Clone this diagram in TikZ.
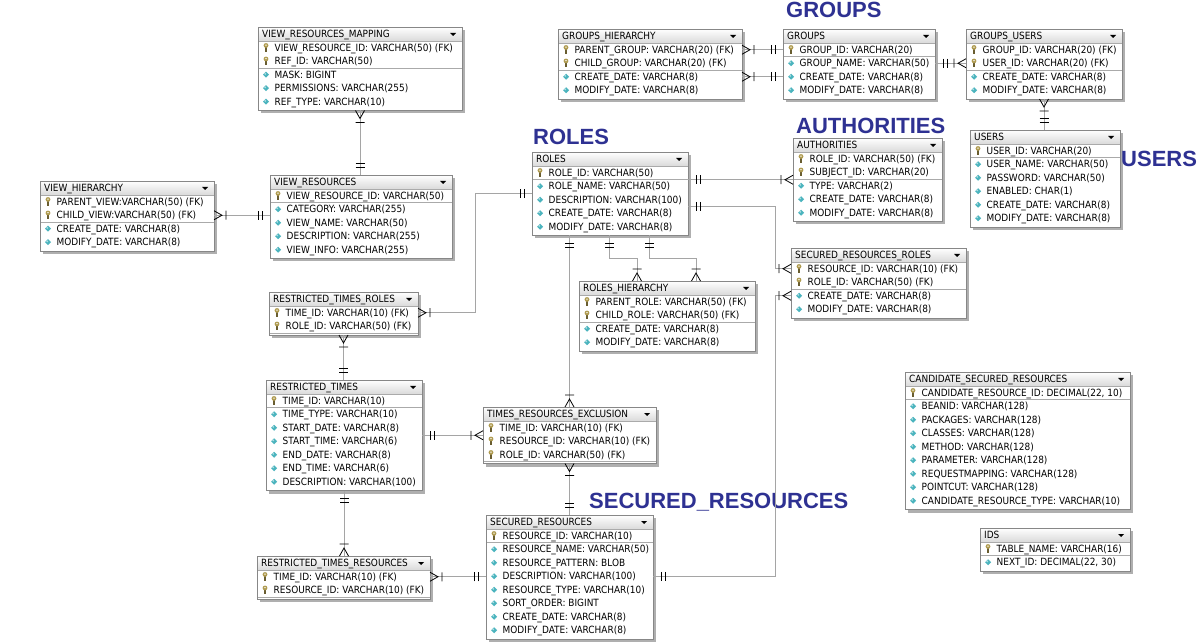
\documentclass[tikz,border=0pt]{standalone}
\usepackage{fontspec}
\setmainfont{DejaVu Sans Condensed}
\newfontfamily\labelfont{Liberation Sans}
\usetikzlibrary{calc}

\definecolor{tblborder}{RGB}{135,135,135}
\definecolor{tblshade}{RGB}{175,175,175}
\definecolor{hdrgray}{RGB}{218,218,218}
\definecolor{sepgray}{RGB}{170,170,170}
\definecolor{linegray}{RGB}{165,165,165}
\definecolor{labelblue}{RGB}{46,49,146}
\definecolor{keygold}{RGB}{175,155,80}
\definecolor{colcyan}{RGB}{75,180,190}

\tikzset{
  tblbox/.style={fill=white, inner sep=0pt, outer sep=0pt},
  rowtext/.style={anchor=west, inner sep=0pt, text height=7.3pt, text depth=0pt,
    font=\fontsize{9.95}{12}\selectfont},
  relline/.style={draw=linegray, line width=0.9pt},
  markline/.style={draw=black, line width=0.8pt},
  sectionlabel/.style={anchor=west, inner sep=0pt, text height=15.8pt, text depth=0pt,
    text=labelblue, font=\labelfont\bfseries\fontsize{22}{25}\selectfont},
  pics/k/.style={code={
    \draw[keygold!60!black, line width=1.3pt] (0,-0.5) -- (0,4);
    \fill[keygold] (0,-2.3) circle (2.4pt);
    \fill[white] (0,-2.6) circle (0.8pt);}},
  pics/c/.style={code={
    \fill[colcyan] (-3,0) -- (0,-3) -- (3,0) -- (0,3) -- cycle;
    \fill[white!55!colcyan] (-0.8,-0.8) circle (1pt);}},
  pics/crow/.style={code={
    \draw[markline] (0,-4.5) -- (8,0) -- (0,4.5) (12,-4.5) -- (12,4.5);}},
  pics/one/.style={code={
    \draw[markline] (8,-4.5) -- (8,4.5) (12,-4.5) -- (12,4.5);}},
}

% #1 name, #2 x, #3 y, #4 width, #5 title, #6 key rows, #7 rows
\newcommand{\dbtable}[7]{%
  \foreach \r [count=\nn] in {#7} {\xdef\nrows{\nn}}%
  \pgfmathsetmacro{\tblh}{16+\nrows*13.5}%
  \pgfmathsetmacro{\sepy}{#3+14+#6*13.5}%
  \fill[tblshade] (#2+3,#3+3) rectangle ++(#4,\tblh);
  \node[tblbox, minimum width=#4pt, minimum height=\tblh pt, anchor=north west] (#1) at (#2,#3) {};
  \shade[top color=white, bottom color=hdrgray] (#2,#3) rectangle ++(#4,14);
  \node[rowtext] (#1-t) at (#2+4,#3+7.3) {#5};
  \fill (#2+#4-12,#3+6) -- ++(6,0) -- ++(-3,3) -- cycle;
  \draw[sepgray] (#2,#3+14) -- ++(#4,0);
  \draw[sepgray] (#2,\sepy) -- ++(#4,0);
  \foreach \kind/\txt [count=\i] in {#7} {
    \pgfmathsetmacro{\ry}{#3+14+(\i-0.5)*13.5}
    \pic at (#2+8,\ry) {\kind};
    \node[rowtext] (#1-\i) at (#2+16.5,\ry) {\txt};
  }
  \draw[tblborder, line width=0.8pt] (#1.north west) rectangle (#1.south east);
}

\begin{document}
\begin{tikzpicture}[x=1pt,y=-1pt]
\useasboundingbox (0,0) rectangle (1200,644);
\fill[white] (0,0) rectangle (1200,644);

% tables
\dbtable{vrm}{258}{27}{204}{VIEW\_RESOURCES\_MAPPING}{2}{k/VIEW\_RESOURCE\_ID: VARCHAR(50) (FK), k/REF\_ID: VARCHAR(50), c/MASK: BIGINT, c/PERMISSIONS: VARCHAR(255), c/REF\_TYPE: VARCHAR(10)}
\dbtable{vh}{40}{181}{174}{VIEW\_HIERARCHY}{2}{k/PARENT\_VIEW:VARCHAR(50) (FK), k/CHILD\_VIEW:VARCHAR(50) (FK), c/CREATE\_DATE: VARCHAR(8), c/MODIFY\_DATE: VARCHAR(8)}
\dbtable{vr}{270}{175}{182}{VIEW\_RESOURCES}{1}{k/VIEW\_RESOURCE\_ID: VARCHAR(50), c/CATEGORY: VARCHAR(255), c/VIEW\_NAME: VARCHAR(50), c/DESCRIPTION: VARCHAR(255), c/VIEW\_INFO: VARCHAR(255)}
\dbtable{gh}{558}{29}{184}{GROUPS\_HIERARCHY}{2}{k/PARENT\_GROUP: VARCHAR(20) (FK), k/CHILD\_GROUP: VARCHAR(20) (FK), c/CREATE\_DATE: VARCHAR(8), c/MODIFY\_DATE: VARCHAR(8)}
\dbtable{grp}{783}{29}{152}{GROUPS}{1}{k/GROUP\_ID: VARCHAR(20), c/GROUP\_NAME: VARCHAR(50), c/CREATE\_DATE: VARCHAR(8), c/MODIFY\_DATE: VARCHAR(8)}
\dbtable{gu}{966}{29}{156}{GROUPS\_USERS}{2}{k/GROUP\_ID: VARCHAR(20) (FK), k/USER\_ID: VARCHAR(20) (FK), c/CREATE\_DATE: VARCHAR(8), c/MODIFY\_DATE: VARCHAR(8)}
\dbtable{usr}{970}{130}{150}{USERS}{1}{k/USER\_ID: VARCHAR(20), c/USER\_NAME: VARCHAR(50), c/PASSWORD: VARCHAR(50), c/ENABLED: CHAR(1), c/CREATE\_DATE: VARCHAR(8), c/MODIFY\_DATE: VARCHAR(8)}
\dbtable{rol}{532}{152}{156}{ROLES}{1}{k/ROLE\_ID: VARCHAR(50), c/ROLE\_NAME: VARCHAR(50), c/DESCRIPTION: VARCHAR(100), c/CREATE\_DATE: VARCHAR(8), c/MODIFY\_DATE: VARCHAR(8)}
\dbtable{aut}{793}{138}{149}{AUTHORITIES}{2}{k/ROLE\_ID: VARCHAR(50) (FK), k/SUBJECT\_ID: VARCHAR(20), c/TYPE: VARCHAR(2), c/CREATE\_DATE: VARCHAR(8), c/MODIFY\_DATE: VARCHAR(8)}
\dbtable{srr}{791}{248}{175}{SECURED\_RESOURCES\_ROLES}{2}{k/RESOURCE\_ID: VARCHAR(10) (FK), k/ROLE\_ID: VARCHAR(50) (FK), c/CREATE\_DATE: VARCHAR(8), c/MODIFY\_DATE: VARCHAR(8)}
\dbtable{rh}{579}{281}{176}{ROLES\_HIERARCHY}{2}{k/PARENT\_ROLE: VARCHAR(50) (FK), k/CHILD\_ROLE: VARCHAR(50) (FK), c/CREATE\_DATE: VARCHAR(8), c/MODIFY\_DATE: VARCHAR(8)}
\dbtable{rtr}{269}{292}{149}{RESTRICTED\_TIMES\_ROLES}{2}{k/TIME\_ID: VARCHAR(10) (FK), k/ROLE\_ID: VARCHAR(50) (FK)}
\dbtable{rt}{266}{380}{156}{RESTRICTED\_TIMES}{1}{k/TIME\_ID: VARCHAR(10), c/TIME\_TYPE: VARCHAR(10), c/START\_DATE: VARCHAR(8), c/START\_TIME: VARCHAR(6), c/END\_DATE: VARCHAR(8), c/END\_TIME: VARCHAR(6), c/DESCRIPTION: VARCHAR(100)}
\dbtable{tre}{483}{407}{173}{TIMES\_RESOURCES\_EXCLUSION}{3}{k/TIME\_ID: VARCHAR(10) (FK), k/RESOURCE\_ID: VARCHAR(10) (FK), k/ROLE\_ID: VARCHAR(50) (FK)}
\dbtable{rts}{257}{556}{173}{RESTRICTED\_TIMES\_RESOURCES}{2}{k/TIME\_ID: VARCHAR(10) (FK), k/RESOURCE\_ID: VARCHAR(10) (FK)}
\dbtable{sr}{486}{515}{167}{SECURED\_RESOURCES}{1}{k/RESOURCE\_ID: VARCHAR(10), c/RESOURCE\_NAME: VARCHAR(50), c/RESOURCE\_PATTERN: BLOB, c/DESCRIPTION: VARCHAR(100), c/RESOURCE\_TYPE: VARCHAR(10), c/SORT\_ORDER: BIGINT, c/CREATE\_DATE: VARCHAR(8), c/MODIFY\_DATE: VARCHAR(8)}
\dbtable{csr}{905}{372}{225}{CANDIDATE\_SECURED\_RESOURCES}{1}{k/{CANDIDATE\_RESOURCE\_ID: DECIMAL(22, 10)}, c/BEANID: VARCHAR(128), c/PACKAGES: VARCHAR(128), c/CLASSES: VARCHAR(128), c/METHOD: VARCHAR(128), c/PARAMETER: VARCHAR(128), c/REQUESTMAPPING: VARCHAR(128), c/POINTCUT: VARCHAR(128), c/CANDIDATE\_RESOURCE\_TYPE: VARCHAR(10)}
\dbtable{ids}{980}{528}{150}{IDS}{1}{k/TABLE\_NAME: VARCHAR(16), c/{NEXT\_ID: DECIMAL(22, 30)}}

% section labels
\node[sectionlabel] (lbl_groups) at (786,10) {GROUPS};
\node[sectionlabel] (lbl_roles) at (533,137) {ROLES};
\node[sectionlabel] (lbl_auth) at (796,126) {AUTHORITIES};
\node[sectionlabel] (lbl_users) at (1121,159) {USERS};
\node[sectionlabel] (lbl_secured) at (589,501) {SECURED\_RESOURCES};

% relations
\coordinate (bend) at (775,0);
\coordinate (r34) at ($(rol-3)!.5!(rol-4)$);
\draw[relline] (vrm.south) pic[rotate=-90]{crow} -- (vrm.south |- vr.north) pic[rotate=90]{one};
\draw[relline] (vh.east |- vh-2) pic{crow} -- (vr.west |- vh-2) pic[rotate=180]{one};
\draw[relline] (gh.east |- gh-1) pic{crow} -- (grp.west |- gh-1) pic[rotate=180]{one};
\draw[relline] (gh.east |- gh-3) pic{crow} -- (grp.west |- gh-3) pic[rotate=180]{one};
\draw[relline] (grp.east |- grp-2) pic{one} -- (gu.west |- grp-2) pic[rotate=180]{crow};
\draw[relline] (gu.south) pic[rotate=-90]{crow} -- (gu.south |- usr.north) pic[rotate=90]{one};
\draw[relline] (rol.east |- aut.west) pic{one} -- (aut.west) pic[rotate=180]{crow};
\draw[relline] (rol.east |- r34) pic{one} -| (bend |- srr-1) -- (srr.west |- srr-1) pic[rotate=180]{crow};
\draw[relline] (sr.east |- sr-4) pic{one} -| (bend |- srr-3) -- (srr.west |- srr-3) pic[rotate=180]{crow};
\draw[relline] (tre.north |- rol.south) pic[rotate=-90]{one} -- (tre.north) pic[rotate=90]{crow};
\draw[relline] ($(rol.south west)+(77,0)$) pic[rotate=-90]{one} -- ++(0,23) -| ($(rh.north west)+(58,0)$) pic[rotate=90]{crow};
\draw[relline] ($(rol.south west)+(117,0)$) pic[rotate=-90]{one} -- ++(0,23) -| ($(rh.north west)+(117,0)$) pic[rotate=90]{crow};
\draw[relline] (rtr.east |- rtr-1) pic{crow} -- ++(57,0) |- (rol.west) pic[rotate=180]{one};
\draw[relline] (rtr.south) pic[rotate=-90]{crow} -- (rtr.south |- rt.north) pic[rotate=90]{one};
\draw[relline] (rt.east |- tre.west) pic{one} -- (tre.west) pic[rotate=180]{crow};
\draw[relline] (tre.south) pic[rotate=-90]{crow} -- (tre.south |- sr.north) pic[rotate=90]{one};
\draw[relline] (rt.south) pic[rotate=-90]{one} -- (rt.south |- rts.north) pic[rotate=90]{crow};
\draw[relline] (rts.east |- rts-1) pic{crow} -- (sr.west |- rts-1) pic[rotate=180]{one};
\end{tikzpicture}
\end{document}
